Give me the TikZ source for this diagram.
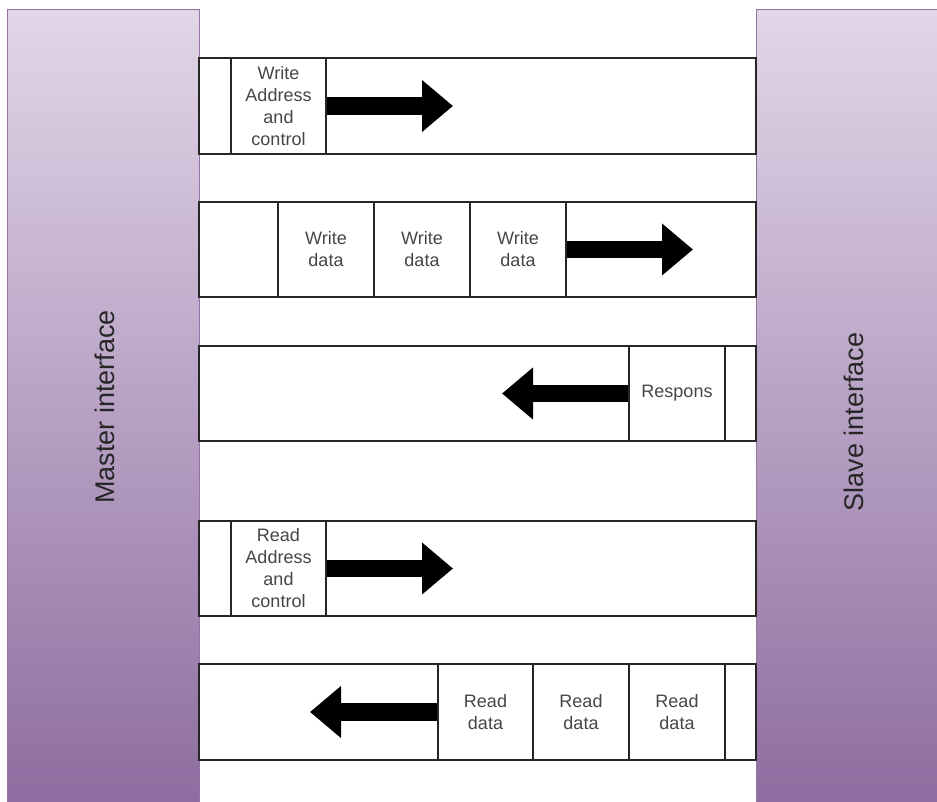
\documentclass[tikz,border=0pt]{standalone}
\usepackage{fontspec}
\setmainfont{Liberation Sans}
\usetikzlibrary{arrows.meta}
\definecolor{ifborder}{RGB}{150,115,166}
\definecolor{iftop}{RGB}{226,214,232}
\definecolor{ifbot}{RGB}{142,109,160}
\definecolor{txt}{RGB}{70,70,70}
\begin{document}
\begin{tikzpicture}[x=1pt,y=-1pt,
  iface/.style={draw=ifborder,line width=1pt,top color=iftop,bottom color=ifbot,minimum width=192pt,minimum height=792pt,inner sep=0pt},
  iflabel/.style={rotate=90,font=\fontsize{27}{32}\selectfont,text=black!85},
  chan/.style={draw=black!85,line width=1.3pt,fill=white,minimum width=557pt,inner sep=0pt},
  cell/.style={draw=black!85,line width=1.3pt,inner sep=0pt,align=center,text=txt,font=\fontsize{18}{22}\selectfont},
  bigarrow/.style={line width=17.5pt,-{Triangle[length=31pt,width=50pt]},black}
]
\useasboundingbox (0,0) rectangle (937,802);
% interfaces
\node[iface] (master) at (103,406) {};
\node[iface] (slave) at (852,406) {};
\node[iflabel] (mlab) at (105,407) {Master interface};
\node[iflabel] (slab) at (854,422) {Slave interface};
% channel 1: write address
\node[chan,minimum height=96pt] (ch1) at (477.5,106) {};
\node[cell,minimum width=32pt,minimum height=96pt] (c1a) at (215,106) {};
\node[cell,minimum width=95pt,minimum height=96pt] (c1b) at (278.5,106) {Write\\Address\\and\\control};
\coordinate (t1) at (453,106);
\draw[bigarrow] (c1b.east) -- (t1);
% channel 2: write data
\node[chan,minimum height=95pt] (ch2) at (477.5,249.5) {};
\node[cell,minimum width=79pt,minimum height=95pt] (c2a) at (238.5,249.5) {};
\node[cell,minimum width=96pt,minimum height=95pt] (c2b) at (326,249.5) {Write\\data};
\node[cell,minimum width=96pt,minimum height=95pt] (c2c) at (422,249.5) {Write\\data};
\node[cell,minimum width=96pt,minimum height=95pt] (c2d) at (518,249.5) {Write\\data};
\coordinate (t2) at (693,249.5);
\draw[bigarrow] (c2d.east) -- (t2);
% channel 3: response
\node[chan,minimum height=95pt] (ch3) at (477.5,393.5) {};
\node[cell,minimum width=96pt,minimum height=95pt] (c3a) at (677,393.5) {Respons};
\node[cell,minimum width=31pt,minimum height=95pt] (c3b) at (740.5,393.5) {};
\coordinate (t3) at (502,393.5);
\draw[bigarrow] (c3a.west) -- (t3);
% channel 4: read address
\node[chan,minimum height=95pt] (ch4) at (477.5,568.5) {};
\node[cell,minimum width=32pt,minimum height=95pt] (c4a) at (215,568.5) {};
\node[cell,minimum width=95pt,minimum height=95pt] (c4b) at (278.5,568.5) {Read\\Address\\and\\control};
\coordinate (t4) at (453,568.5);
\draw[bigarrow] (c4b.east) -- (t4);
% channel 5: read data
\node[chan,minimum height=96pt] (ch5) at (477.5,712) {};
\node[cell,minimum width=95pt,minimum height=96pt] (c5a) at (485.5,712) {Read\\data};
\node[cell,minimum width=96pt,minimum height=96pt] (c5b) at (581,712) {Read\\data};
\node[cell,minimum width=96pt,minimum height=96pt] (c5c) at (677,712) {Read\\data};
\node[cell,minimum width=31pt,minimum height=96pt] (c5d) at (740.5,712) {};
\coordinate (t5) at (310,712);
\draw[bigarrow] (c5a.west) -- (t5);
\end{tikzpicture}
\end{document}
